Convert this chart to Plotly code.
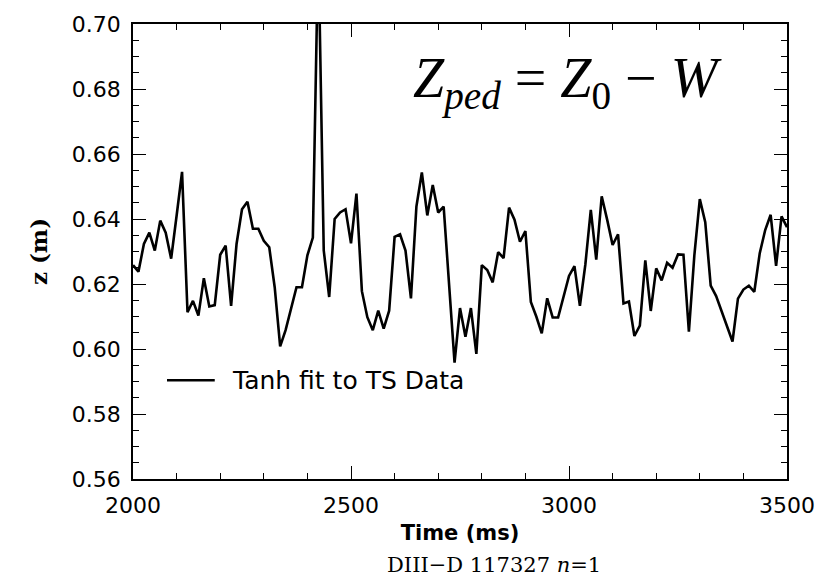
import plotly.graph_objects as go

# Sample times (ms)
time_ms = [2000.0, 2012.5, 2025.0, 2037.5, 2050.0, 2062.5, 2075.0, 2087.5, 2100.0, 2112.5,
           2125.0, 2137.5, 2150.0, 2162.5, 2175.0, 2187.5, 2200.0, 2212.5, 2225.0, 2237.5,
           2250.0, 2262.5, 2275.0, 2287.5, 2300.0, 2312.5, 2325.0, 2337.5, 2350.0, 2362.5,
           2375.0, 2387.5, 2400.0, 2412.5, 2425.0, 2437.5, 2450.0, 2462.5, 2475.0, 2487.5,
           2500.0, 2512.5, 2525.0, 2537.5, 2550.0, 2562.5, 2575.0, 2587.5, 2600.0, 2612.5,
           2625.0, 2637.5, 2650.0, 2662.5, 2675.0, 2687.5, 2700.0, 2712.5, 2725.0, 2737.5,
           2750.0, 2762.5, 2775.0, 2787.5, 2800.0, 2812.5, 2825.0, 2837.5, 2850.0, 2862.5,
           2875.0, 2887.5, 2900.0, 2912.5, 2925.0, 2937.5, 2950.0, 2962.5, 2975.0, 2987.5,
           3000.0, 3012.5, 3025.0, 3037.5, 3050.0, 3062.5, 3075.0, 3087.5, 3100.0, 3112.5,
           3125.0, 3137.5, 3150.0, 3162.5, 3175.0, 3187.5, 3200.0, 3212.5, 3225.0, 3237.5,
           3250.0, 3262.5, 3275.0, 3287.5, 3300.0, 3312.5, 3325.0, 3337.5, 3350.0, 3362.5,
           3375.0, 3387.5, 3400.0, 3412.5, 3425.0, 3437.5, 3450.0, 3462.5, 3475.0, 3487.5,
           3500.0]

# Z pedestal position (m), tanh fit to Thomson scattering data
z_ped = [0.6258, 0.6238, 0.6323, 0.6358, 0.6303, 0.6395, 0.6358, 0.6278, 0.6410, 0.6545,
         0.6113, 0.6148, 0.6103, 0.6218, 0.6131, 0.6135, 0.6290, 0.6318, 0.6133, 0.6323,
         0.6430, 0.6453, 0.6370, 0.6370, 0.6333, 0.6313, 0.6190, 0.6008, 0.6058, 0.6120,
         0.6190, 0.6190, 0.6288, 0.6343, 0.7250, 0.6303, 0.6160, 0.6400, 0.6420, 0.6430,
         0.6325, 0.6478, 0.6178, 0.6098, 0.6058, 0.6118, 0.6063, 0.6118, 0.6345, 0.6353,
         0.6303, 0.6156, 0.6438, 0.6543, 0.6411, 0.6505, 0.6420, 0.6438, 0.6200, 0.5958,
         0.6126, 0.6038, 0.6126, 0.5985, 0.6258, 0.6243, 0.6205, 0.6298, 0.6280, 0.6435,
         0.6398, 0.6330, 0.6363, 0.6145, 0.6100, 0.6048, 0.6156, 0.6097, 0.6097, 0.6158,
         0.6225, 0.6255, 0.6133, 0.6260, 0.6428, 0.6275, 0.6470, 0.6398, 0.6320, 0.6353,
         0.6140, 0.6146, 0.6040, 0.6072, 0.6273, 0.6117, 0.6248, 0.6211, 0.6265, 0.6250,
         0.6291, 0.6290, 0.6053, 0.6288, 0.6461, 0.6390, 0.6195, 0.6163, 0.6118, 0.6068,
         0.6023, 0.6155, 0.6183, 0.6195, 0.6176, 0.6295, 0.6366, 0.6413, 0.6256, 0.6408,
         0.6375]

x_range = [2000, 3500]
y_range = [0.56, 0.70]
x_tickvals = [2000, 2500, 3000, 3500]
y_tickvals = [0.56, 0.58, 0.60, 0.62, 0.64, 0.66, 0.68, 0.70]

series_name = "Tanh fit to TS Data"

fig = go.Figure()
fig.add_trace(go.Scatter(x=time_ms, y=z_ped, mode="lines",
                         line=dict(color="black", width=2.6),
                         name=series_name, showlegend=False))

tick_font = dict(family="DejaVu Sans", size=22, color="black")

fig.update_layout(
    width=829, height=584,
    margin=dict(l=133, r=42, t=13, b=105),
    paper_bgcolor="white", plot_bgcolor="white",
    xaxis=dict(range=x_range, tickvals=x_tickvals, ticks="inside", ticklen=13,
               tickwidth=1.2, tickcolor="black",
               minor=dict(dtick=100, ticks="inside", ticklen=6, tickwidth=1.2, tickcolor="black"),
               showline=True, linecolor="black", linewidth=1.5, mirror="ticks",
               showgrid=False, zeroline=False, tickfont=tick_font, ticklabelstandoff=6,
               title=dict(text="<b>Time (ms)</b>", font=dict(family="DejaVu Sans", size=21, color="black"),
                          standoff=8)),
    yaxis=dict(range=y_range, tickvals=y_tickvals, tickformat=".2f", ticks="inside", ticklen=13,
               tickwidth=1.2, tickcolor="black",
               minor=dict(dtick=0.005, ticks="inside", ticklen=6, tickwidth=1.2, tickcolor="black"),
               showline=True, linecolor="black", linewidth=1.5, mirror="ticks",
               showgrid=False, zeroline=False, tickfont=tick_font, ticklabelstandoff=6,
               title=dict(text="<b>z (m)</b>", font=dict(family="DejaVu Serif", size=23, color="black"),
                          standoff=18)),
)

# Legend key (sample line + label)
fig.add_shape(type="line", xref="paper", yref="paper", x0=0.052, x1=0.125, y0=0.217, y1=0.217,
              line=dict(color="black", width=2.6))
fig.add_annotation(xref="paper", yref="paper", x=0.148, y=0.217, xanchor="left", yanchor="middle",
                   text=series_name, showarrow=False,
                   font=dict(family="DejaVu Sans", size=25, color="black"))

# Formula
fig.add_annotation(xref="paper", yref="paper", x=0.425, y=0.871, xanchor="left", yanchor="middle",
                   text="<i>Z</i><sub><i>ped</i></sub> = <i>Z</i><sub>0</sub> \u2212 <i>W</i>",
                   showarrow=False,
                   font=dict(family="Liberation Serif", size=56, color="black"))

# Shot label
fig.add_annotation(xref="paper", yref="paper", x=0.552, y=-0.189, xanchor="center", yanchor="middle",
                   text="DIII\u2212D 117327 <i>n</i>=1", showarrow=False,
                   font=dict(family="DejaVu Serif", size=21, color="black"))

fig.write_html("out.html")
